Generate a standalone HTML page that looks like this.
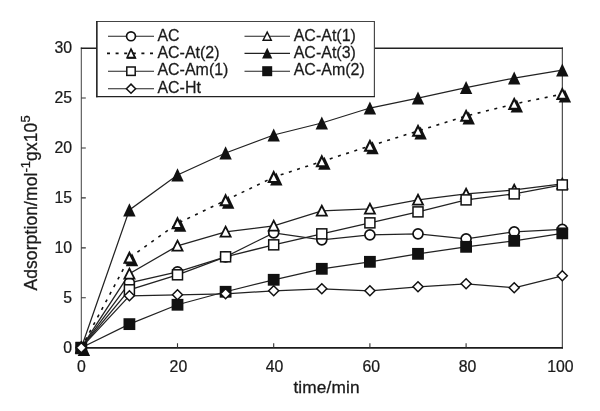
<!DOCTYPE html>
<html lang="en">
<head>
<meta charset="utf-8">
<title>Adsorption vs time</title>
<style>
html,body{margin:0;padding:0;background:#fff;}
body{width:600px;height:411px;overflow:hidden;}
svg{display:block;}
text{font-family:"Liberation Sans",sans-serif;fill:#1a1a1a;stroke:#1a1a1a;stroke-width:0.25px;}
.tk{font-size:16.4px;stroke-width:0.25px;}
.lg{font-size:16.4px;stroke-width:0.25px;}
.ti{font-size:17.3px;letter-spacing:0.13px;stroke-width:0.3px;}
.ty{font-size:17.5px;letter-spacing:0.1px;stroke-width:0.28px;}
.sup{font-size:13px;letter-spacing:0px;}
</style>
</head>
<body>
<svg width="600" height="411" viewBox="0 0 600 411" role="img" aria-label="Adsorption versus time chart">
<rect x="0" y="0" width="600" height="411" fill="#fff"/>

<path d="M81.3 47.4V348.6" stroke="#4a4a4a" stroke-width="1.05" fill="none"/>
<path d="M562.35 47.4V348.6" stroke="#444" stroke-width="1.15" fill="none"/>
<path d="M80.8 48.2H562.9" stroke="#222" stroke-width="1.35" fill="none"/>
<path d="M80.8 347.8H562.9" stroke="#1c1c1c" stroke-width="1.8" fill="none"/>
<path d="M81.3 297.77h4.5M81.3 247.83h4.5M81.3 197.9h4.5M81.3 147.97h4.5M81.3 98.03h4.5M177.5 347.7v-4.5M273.7 347.7v-4.5M369.9 347.7v-4.5M466.1 347.7v-4.5" stroke="#333" stroke-width="1.1" fill="none"/>
<text class="tk" text-anchor="end" transform="translate(72.1 352.9) scale(0.965 1)">0</text>
<text class="tk" text-anchor="end" transform="translate(72.1 302.97) scale(0.965 1)">5</text>
<text class="tk" text-anchor="end" transform="translate(72.1 253.03) scale(0.965 1)">10</text>
<text class="tk" text-anchor="end" transform="translate(72.1 203.1) scale(0.965 1)">15</text>
<text class="tk" text-anchor="end" transform="translate(72.1 153.17) scale(0.965 1)">20</text>
<text class="tk" text-anchor="end" transform="translate(72.1 103.23) scale(0.965 1)">25</text>
<text class="tk" text-anchor="end" transform="translate(72.1 53.3) scale(0.965 1)">30</text>
<text class="tk" text-anchor="middle" transform="translate(81.5 371.9) scale(0.965 1)">0</text>
<text class="tk" text-anchor="middle" transform="translate(178.4 371.9) scale(0.965 1)">20</text>
<text class="tk" text-anchor="middle" transform="translate(274.6 371.9) scale(0.965 1)">40</text>
<text class="tk" text-anchor="middle" transform="translate(371.2 371.9) scale(0.965 1)">60</text>
<text class="tk" text-anchor="middle" transform="translate(467.6 371.9) scale(0.965 1)">80</text>
<text class="tk" text-anchor="middle" transform="translate(560.4 371.9) scale(0.965 1)">100</text>
<text class="ti" transform="translate(293.4 392.5) scale(1.0 1)">time/min</text>
<text class="ty" transform="translate(36.8 290.6) rotate(-90)">Adsorption/mol<tspan class="sup" dy="-7.2">-1</tspan><tspan dy="7.2">gx10</tspan><tspan class="sup" dy="-7.2">5</tspan></text>
<polyline points="81.3,347.7 129.4,282.79 177.5,271.8 225.6,256.82 273.7,232.85 321.8,239.84 369.9,234.85 418,233.85 466.1,238.85 514.2,231.85 562.3,229.36" fill="none" stroke="#222" stroke-width="1.25"/>
<polyline points="81.3,347.7 129.4,273.8 177.5,245.84 225.6,231.85 273.7,225.86 321.8,210.88 369.9,208.89 418,199.9 466.1,193.91 514.2,189.91 562.3,183.92" fill="none" stroke="#222" stroke-width="1.25"/>
<polyline points="81.3,347.7 129.4,257.82 177.5,223.37 225.6,200.4 273.7,177.13 321.8,161.45 369.9,145.97 418,130.99 466.1,116.01 514.2,104.03 562.3,94.04" fill="none" stroke="#111" stroke-width="1.6" stroke-dasharray="3 5.6"/>
<polyline points="81.3,347.7 129.4,209.88 177.5,174.93 225.6,152.96 273.7,134.98 321.8,123 369.9,108.02 418,98.03 466.1,87.55 514.2,78.06 562.3,70.07" fill="none" stroke="#222" stroke-width="1.25"/>
<polyline points="81.3,347.7 129.4,289.78 177.5,274.8 225.6,256.82 273.7,244.84 321.8,233.85 369.9,222.87 418,211.88 466.1,199.9 514.2,193.91 562.3,184.92" fill="none" stroke="#222" stroke-width="1.25"/>
<polyline points="81.3,347.7 129.4,324.13 177.5,304.76 225.6,291.77 273.7,279.79 321.8,268.81 369.9,261.81 418,253.83 466.1,246.83 514.2,240.84 562.3,233.35" fill="none" stroke="#222" stroke-width="1.25"/>
<polyline points="81.3,347.7 129.4,295.77 177.5,294.77 225.6,293.77 273.7,290.78 321.8,288.78 369.9,290.78 418,286.78 466.1,283.79 514.2,287.78 562.3,275.8" fill="none" stroke="#222" stroke-width="1.25"/>
<g><circle cx="81.3" cy="347.7" r="5.0" fill="#fff" stroke="#111" stroke-width="1.7"/><circle cx="129.4" cy="282.79" r="5.0" fill="#fff" stroke="#111" stroke-width="1.7"/><circle cx="177.5" cy="271.8" r="5.0" fill="#fff" stroke="#111" stroke-width="1.7"/><circle cx="225.6" cy="256.82" r="5.0" fill="#fff" stroke="#111" stroke-width="1.7"/><circle cx="273.7" cy="232.85" r="5.0" fill="#fff" stroke="#111" stroke-width="1.7"/><circle cx="321.8" cy="239.84" r="5.0" fill="#fff" stroke="#111" stroke-width="1.7"/><circle cx="369.9" cy="234.85" r="5.0" fill="#fff" stroke="#111" stroke-width="1.7"/><circle cx="418" cy="233.85" r="5.0" fill="#fff" stroke="#111" stroke-width="1.7"/><circle cx="466.1" cy="238.85" r="5.0" fill="#fff" stroke="#111" stroke-width="1.7"/><circle cx="514.2" cy="231.85" r="5.0" fill="#fff" stroke="#111" stroke-width="1.7"/><circle cx="562.3" cy="229.36" r="5.0" fill="#fff" stroke="#111" stroke-width="1.7"/></g>
<g><path d="M81.3 342.55L86.35 352.5H76.25Z" fill="#fff" stroke="#111" stroke-width="1.8" stroke-linejoin="miter"/><path d="M129.4 268.65L134.45 278.6H124.35Z" fill="#fff" stroke="#111" stroke-width="1.8" stroke-linejoin="miter"/><path d="M177.5 240.69L182.55 250.64H172.45Z" fill="#fff" stroke="#111" stroke-width="1.8" stroke-linejoin="miter"/><path d="M225.6 226.7L230.65 236.65H220.55Z" fill="#fff" stroke="#111" stroke-width="1.8" stroke-linejoin="miter"/><path d="M273.7 220.71L278.75 230.66H268.65Z" fill="#fff" stroke="#111" stroke-width="1.8" stroke-linejoin="miter"/><path d="M321.8 205.73L326.85 215.68H316.75Z" fill="#fff" stroke="#111" stroke-width="1.8" stroke-linejoin="miter"/><path d="M369.9 203.74L374.95 213.69H364.85Z" fill="#fff" stroke="#111" stroke-width="1.8" stroke-linejoin="miter"/><path d="M418 194.75L423.05 204.7H412.95Z" fill="#fff" stroke="#111" stroke-width="1.8" stroke-linejoin="miter"/><path d="M466.1 188.76L471.15 198.71H461.05Z" fill="#fff" stroke="#111" stroke-width="1.8" stroke-linejoin="miter"/><path d="M514.2 184.76L519.25 194.71H509.15Z" fill="#fff" stroke="#111" stroke-width="1.8" stroke-linejoin="miter"/><path d="M562.3 178.77L567.35 188.72H557.25Z" fill="#fff" stroke="#111" stroke-width="1.8" stroke-linejoin="miter"/></g>
<g><path d="M83.9 343.1L90.1 356.1H77.7Z" fill="#111"/><path d="M81.3 342.75L86.1 352.5H76.5Z" fill="#fff" stroke="#111" stroke-width="2.1" stroke-linejoin="miter"/><path d="M132 253.22L138.2 266.22H125.8Z" fill="#111"/><path d="M129.4 252.87L134.2 262.62H124.6Z" fill="#fff" stroke="#111" stroke-width="2.1" stroke-linejoin="miter"/><path d="M180.1 218.77L186.3 231.77H173.9Z" fill="#111"/><path d="M177.5 218.42L182.3 228.17H172.7Z" fill="#fff" stroke="#111" stroke-width="2.1" stroke-linejoin="miter"/><path d="M228.2 195.8L234.4 208.8H222Z" fill="#111"/><path d="M225.6 195.45L230.4 205.2H220.8Z" fill="#fff" stroke="#111" stroke-width="2.1" stroke-linejoin="miter"/><path d="M276.3 172.53L282.5 185.53H270.1Z" fill="#111"/><path d="M273.7 172.18L278.5 181.93H268.9Z" fill="#fff" stroke="#111" stroke-width="2.1" stroke-linejoin="miter"/><path d="M324.4 156.85L330.6 169.85H318.2Z" fill="#111"/><path d="M321.8 156.5L326.6 166.25H317Z" fill="#fff" stroke="#111" stroke-width="2.1" stroke-linejoin="miter"/><path d="M372.5 141.37L378.7 154.37H366.3Z" fill="#111"/><path d="M369.9 141.02L374.7 150.77H365.1Z" fill="#fff" stroke="#111" stroke-width="2.1" stroke-linejoin="miter"/><path d="M420.6 126.39L426.8 139.39H414.4Z" fill="#111"/><path d="M418 126.04L422.8 135.79H413.2Z" fill="#fff" stroke="#111" stroke-width="2.1" stroke-linejoin="miter"/><path d="M468.7 111.41L474.9 124.41H462.5Z" fill="#111"/><path d="M466.1 111.06L470.9 120.81H461.3Z" fill="#fff" stroke="#111" stroke-width="2.1" stroke-linejoin="miter"/><path d="M516.8 99.43L523 112.43H510.6Z" fill="#111"/><path d="M514.2 99.08L519 108.83H509.4Z" fill="#fff" stroke="#111" stroke-width="2.1" stroke-linejoin="miter"/><path d="M564.9 89.44L571.1 102.44H558.7Z" fill="#111"/><path d="M562.3 89.09L567.1 98.84H557.5Z" fill="#fff" stroke="#111" stroke-width="2.1" stroke-linejoin="miter"/></g>
<g><path d="M81.3 341.1L87.5 354.2H75.1Z" fill="#111"/><path d="M129.4 203.28L135.6 216.38H123.2Z" fill="#111"/><path d="M177.5 168.33L183.7 181.43H171.3Z" fill="#111"/><path d="M225.6 146.36L231.8 159.46H219.4Z" fill="#111"/><path d="M273.7 128.38L279.9 141.48H267.5Z" fill="#111"/><path d="M321.8 116.4L328 129.5H315.6Z" fill="#111"/><path d="M369.9 101.42L376.1 114.52H363.7Z" fill="#111"/><path d="M418 91.43L424.2 104.53H411.8Z" fill="#111"/><path d="M466.1 80.95L472.3 94.05H459.9Z" fill="#111"/><path d="M514.2 71.46L520.4 84.56H508Z" fill="#111"/><path d="M562.3 63.47L568.5 76.57H556.1Z" fill="#111"/></g>
<g><rect x="76.3" y="342.7" width="10" height="10" fill="#fff" stroke="#111" stroke-width="1.5"/><rect x="124.4" y="284.78" width="10" height="10" fill="#fff" stroke="#111" stroke-width="1.5"/><rect x="172.5" y="269.8" width="10" height="10" fill="#fff" stroke="#111" stroke-width="1.5"/><rect x="220.6" y="251.82" width="10" height="10" fill="#fff" stroke="#111" stroke-width="1.5"/><rect x="268.7" y="239.84" width="10" height="10" fill="#fff" stroke="#111" stroke-width="1.5"/><rect x="316.8" y="228.85" width="10" height="10" fill="#fff" stroke="#111" stroke-width="1.5"/><rect x="364.9" y="217.87" width="10" height="10" fill="#fff" stroke="#111" stroke-width="1.5"/><rect x="413" y="206.88" width="10" height="10" fill="#fff" stroke="#111" stroke-width="1.5"/><rect x="461.1" y="194.9" width="10" height="10" fill="#fff" stroke="#111" stroke-width="1.5"/><rect x="509.2" y="188.91" width="10" height="10" fill="#fff" stroke="#111" stroke-width="1.5"/><rect x="557.3" y="179.92" width="10" height="10" fill="#fff" stroke="#111" stroke-width="1.5"/></g>
<g><rect x="75.4" y="341.8" width="11.8" height="11.8" fill="#111"/><rect x="123.5" y="318.23" width="11.8" height="11.8" fill="#111"/><rect x="171.6" y="298.86" width="11.8" height="11.8" fill="#111"/><rect x="219.7" y="285.87" width="11.8" height="11.8" fill="#111"/><rect x="267.8" y="273.89" width="11.8" height="11.8" fill="#111"/><rect x="315.9" y="262.91" width="11.8" height="11.8" fill="#111"/><rect x="364" y="255.91" width="11.8" height="11.8" fill="#111"/><rect x="412.1" y="247.93" width="11.8" height="11.8" fill="#111"/><rect x="460.2" y="240.93" width="11.8" height="11.8" fill="#111"/><rect x="508.3" y="234.94" width="11.8" height="11.8" fill="#111"/><rect x="556.4" y="227.45" width="11.8" height="11.8" fill="#111"/></g>
<g><path d="M81.3 342.7L86.3 347.7L81.3 352.7L76.3 347.7Z" fill="#fff" stroke="#111" stroke-width="1.5" stroke-linejoin="miter"/><path d="M129.4 290.77L134.4 295.77L129.4 300.77L124.4 295.77Z" fill="#fff" stroke="#111" stroke-width="1.5" stroke-linejoin="miter"/><path d="M177.5 289.77L182.5 294.77L177.5 299.77L172.5 294.77Z" fill="#fff" stroke="#111" stroke-width="1.5" stroke-linejoin="miter"/><path d="M225.6 288.77L230.6 293.77L225.6 298.77L220.6 293.77Z" fill="#fff" stroke="#111" stroke-width="1.5" stroke-linejoin="miter"/><path d="M273.7 285.78L278.7 290.78L273.7 295.78L268.7 290.78Z" fill="#fff" stroke="#111" stroke-width="1.5" stroke-linejoin="miter"/><path d="M321.8 283.78L326.8 288.78L321.8 293.78L316.8 288.78Z" fill="#fff" stroke="#111" stroke-width="1.5" stroke-linejoin="miter"/><path d="M369.9 285.78L374.9 290.78L369.9 295.78L364.9 290.78Z" fill="#fff" stroke="#111" stroke-width="1.5" stroke-linejoin="miter"/><path d="M418 281.78L423 286.78L418 291.78L413 286.78Z" fill="#fff" stroke="#111" stroke-width="1.5" stroke-linejoin="miter"/><path d="M466.1 278.79L471.1 283.79L466.1 288.79L461.1 283.79Z" fill="#fff" stroke="#111" stroke-width="1.5" stroke-linejoin="miter"/><path d="M514.2 282.78L519.2 287.78L514.2 292.78L509.2 287.78Z" fill="#fff" stroke="#111" stroke-width="1.5" stroke-linejoin="miter"/><path d="M562.3 270.8L567.3 275.8L562.3 280.8L557.3 275.8Z" fill="#fff" stroke="#111" stroke-width="1.5" stroke-linejoin="miter"/></g>
<rect x="96.85" y="21.5" width="277.55" height="75.15" fill="#fff"/>
<path d="M96.05 21.5H374.95M374.4 21.5V96.65" stroke="#444" stroke-width="1.15" fill="none"/>
<path d="M96.85 21.0V97.35000000000001" stroke="#222" stroke-width="1.6" fill="none"/>
<path d="M96.05 96.65H374.95" stroke="#222" stroke-width="1.4" fill="none"/>
<path d="M108 36.3H154" fill="none" stroke="#222" stroke-width="1.1"/>
<circle cx="131" cy="36.3" r="4.45" fill="#fff" stroke="#111" stroke-width="1.7"/>
<text class="lg" transform="translate(157.4 40.9) scale(0.975 1)">AC</text>
<path d="M244.5 36.3H290" fill="none" stroke="#222" stroke-width="1.1"/>
<path d="M267.2 32.1L271.3 40.3H263.1Z" fill="#fff" stroke="#111" stroke-width="1.4" stroke-linejoin="miter"/>
<text class="lg" transform="translate(293.7 40.9) scale(0.975 1)">AC-At(1)</text>
<path d="M107 53.4H154" fill="none" stroke="#111" stroke-width="1.6" stroke-dasharray="3 5.6"/>
<path d="M131.6 48.8L136.6 58.8H127Z" fill="#111"/><path d="M131 49.1L134.9 57.6H127.1Z" fill="#fff" stroke="#111" stroke-width="1.6" stroke-linejoin="miter"/>
<text class="lg" transform="translate(157.4 58.3) scale(0.975 1)">AC-At(2)</text>
<path d="M244.5 53.4H290" fill="none" stroke="#222" stroke-width="1.1"/>
<path d="M267.2 47.8L272.3 58.4H262.1Z" fill="#111"/>
<text class="lg" transform="translate(293.7 58.3) scale(0.975 1)">AC-At(3)</text>
<path d="M108 71.2H154" fill="none" stroke="#222" stroke-width="1.1"/>
<rect x="126.8" y="67" width="8.4" height="8.4" fill="#fff" stroke="#111" stroke-width="1.5"/>
<text class="lg" transform="translate(157.4 75.4) scale(0.975 1)">AC-Am(1)</text>
<path d="M244.5 71.2H290" fill="none" stroke="#222" stroke-width="1.1"/>
<rect x="262.2" y="66.2" width="10" height="10" fill="#111"/>
<text class="lg" transform="translate(293.7 75.4) scale(0.975 1)">AC-Am(2)</text>
<path d="M108 88.7H154" fill="none" stroke="#222" stroke-width="1.1"/>
<path d="M131 84.1L135.6 88.7L131 93.3L126.4 88.7Z" fill="#fff" stroke="#111" stroke-width="1.5" stroke-linejoin="miter"/>
<text class="lg" transform="translate(157.4 92.5) scale(0.975 1)">AC-Ht</text>
</svg>
</body>
</html>
